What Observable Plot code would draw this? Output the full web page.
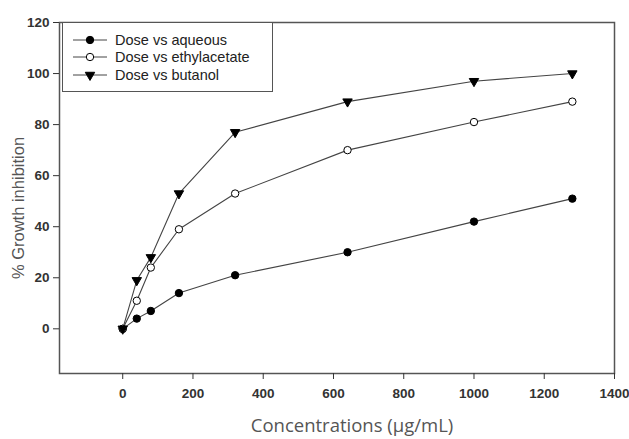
<!DOCTYPE html>
<html>
<head>
<meta charset="utf-8">
<script src="https://cdn.jsdelivr.net/npm/d3@7"></script>
<script src="https://cdn.jsdelivr.net/npm/@observablehq/plot@0.6"></script>
<style>
  html, body { margin: 0; padding: 0; background: #fff; }
  #wrap { position: relative; width: 629px; height: 439px; }
  #legend {
    position: absolute; left: 62px; top: 22px; width: 211px; height: 70px;
    border: 1px solid #555; background: #fff; box-sizing: border-box;
    font-family: "Liberation Sans", Arial, sans-serif; font-size: 14.5px; color: #222;
    padding-top: 8px;
  }
  .lg-row { display: flex; align-items: center; height: 17.5px; }
  .lg-row svg { margin-left: 10px; margin-right: 8px; }
</style>
</head>
<body>
<div id="wrap"><div id="legend"></div></div>
<script>
const concentrations = [0, 40, 80, 160, 320, 640, 1000, 1280];
const aqueous        = [0, 4, 7, 14, 21, 30, 42, 51];
const ethylacetate   = [0, 11, 24, 39, 53, 70, 81, 89];
const butanol        = [0, 19, 28, 53, 77, 89, 97, 100];
const seriesNames = ["Dose vs aqueous", "Dose vs ethylacetate", "Dose vs butanol"];
const xTicks = [0, 200, 400, 600, 800, 1000, 1200, 1400];
const yTicks = [0, 20, 40, 60, 80, 100, 120];
const xLabel = "Concentrations (µg/mL)";
const yLabel = "% Growth inhibition";

const seriesValues = [aqueous, ethylacetate, butanol];
const rows = [];
seriesNames.forEach((name, i) => {
  concentrations.forEach((c, j) => rows.push({series: name, x: c, y: seriesValues[i][j]}));
});
const styleOf = {
  "Dose vs aqueous":      {symbol: "circle",   fill: "black", rotate: 0,   r: 3.7},
  "Dose vs ethylacetate": {symbol: "circle",   fill: "white", rotate: 0,   r: 3.7},
  "Dose vs butanol":      {symbol: "triangle", fill: "black", rotate: 180, r: 3.5}
};

const dotMarks = seriesNames.map(name => Plot.dot(rows.filter(d => d.series === name), {
  x: "x", y: "y",
  symbol: () => styleOf[name].symbol,
  r: styleOf[name].r,
  fill: styleOf[name].fill,
  stroke: "black",
  strokeWidth: 1,
  rotate: styleOf[name].rotate
}));

const chart = Plot.plot({
  width: 629,
  height: 439,
  marginLeft: 59,
  marginRight: 15,
  marginTop: 22,
  marginBottom: 66,
  style: {background: "white", fontFamily: "'Liberation Sans', Arial, sans-serif"},
  x: {domain: [-180, 1400]},
  y: {domain: [-17.5, 120]},
  marks: [
    Plot.frame({stroke: "#555", strokeWidth: 1.5}),
    Plot.axisX({ticks: xTicks, tickSize: 6, tickPadding: 9, label: null, fontSize: 13.5, fontWeight: "bold", color: "#333", tickFormat: d => String(d)}),
    Plot.axisY({ticks: yTicks, tickSize: 6, tickPadding: 4, label: null, fontSize: 13.5, fontWeight: "bold", color: "#333", tickFormat: d => String(d)}),
    Plot.line(rows, {x: "x", y: "y", z: "series", stroke: "#444", strokeWidth: 1.1}),
    ...dotMarks,
    Plot.text([yLabel], {frameAnchor: "left", dx: -41, dy: 10, rotate: -90, text: d => d,
      fontSize: 16.5, fill: "#555", textAnchor: "middle", lineAnchor: "middle"}),
    Plot.text([xLabel], {frameAnchor: "bottom", dx: 15, dy: 53, text: d => d,
      fontSize: 18.5, fill: "#555", fontFamily: "'Open Sans', sans-serif", lineAnchor: "middle"})
  ]
});
document.getElementById("wrap").prepend(chart);

// legend
const legend = document.getElementById("legend");
seriesNames.forEach(name => {
  const s = styleOf[name];
  const row = document.createElement("div");
  row.className = "lg-row";
  const sym = d3.symbol(s.symbol === "circle" ? d3.symbolCircle : d3.symbolTriangle, Math.PI * s.r * s.r)();
  row.innerHTML = `<svg width="34" height="12"><line x1="0" x2="34" y1="6" y2="6" stroke="#444" stroke-width="1"/>` +
    `<path d="${sym}" transform="translate(17,6) rotate(${s.rotate})" fill="${s.fill}" stroke="black"/></svg><span>${name}</span>`;
  legend.appendChild(row);
});
</script>
</body>
</html>
